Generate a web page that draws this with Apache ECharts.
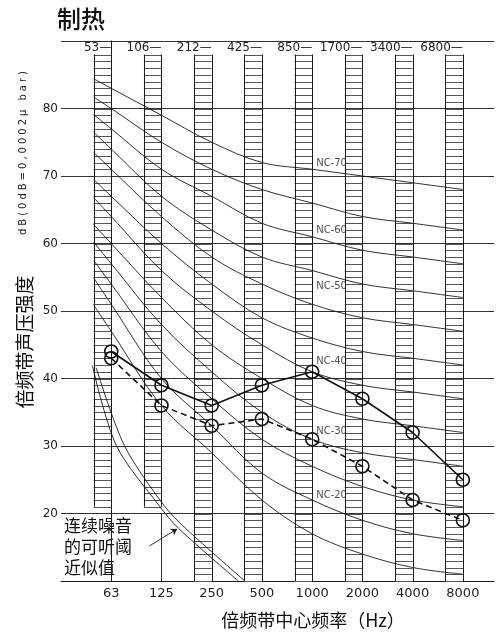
<!DOCTYPE html>
<html>
<head>
<meta charset="utf-8">
<script src="https://cdn.jsdelivr.net/npm/echarts@6/dist/echarts.min.js"></script>
<style>
html,body{margin:0;padding:0;background:#fff}
#chart{width:497px;height:637px}
</style>
</head>
<body>
<div id="chart"></div>
<script>
// Octave bands: centre frequencies (bottom axis) and lower band edges (top axis)
const bandCenters = ['63', '125', '250', '500', '1000', '2000', '4000', '8000'];
const bandEdges = ['53', '106', '212', '425', '850', '1700', '3400', '6800'];
const levelTicks = [20, 30, 40, 50, 60, 70, 80];

// Measured octave-band sound pressure levels, dB
const levelsSolid = [44, 39, 36, 39, 41, 37, 32, 25];
const levelsDashed = [43, 36, 33, 34, 31, 27, 22, 19];

// Ladder columns: top and bottom level of each band column, dB
const columnTop = [88, 88, 88, 88, 88, 88, 88, 88];
const columnBottom = [21, 21, 10, 10, 10, 10, 10, 10];

// NC curves: level where each curve starts (left edge of the 63 Hz column), then at each band centre
const ncNames = ['NC-15', 'NC-20', 'NC-25', 'NC-30', 'NC-35', 'NC-40', 'NC-45', 'NC-50', 'NC-55', 'NC-60', 'NC-65', 'NC-70'];
const ncStart = [50.9, 54.9, 57.5, 60.2, 62.8, 66.8, 69.5, 73.5, 76.5, 79.1, 81.7, 84.4];
const nc15 = [47, 36, 29, 22, 17, 14, 12, 11];
const nc20 = [51, 40, 33, 26, 22, 19, 17, 16];
const nc25 = [54, 44, 37, 31, 27, 24, 22, 21];
const nc30 = [57, 48, 41, 35, 31, 29, 28, 27];
const nc35 = [60, 52, 45, 40, 36, 34, 33, 32];
const nc40 = [64, 56, 50, 45, 41, 39, 38, 37];
const nc45 = [67, 60, 54, 49, 46, 44, 43, 42];
const nc50 = [71, 64, 58, 54, 51, 49, 48, 47];
const nc55 = [74, 67, 62, 58, 56, 54, 53, 52];
const nc60 = [77, 71, 67, 63, 61, 59, 58, 57];
const nc65 = [80, 75, 71, 68, 66, 64, 63, 62];
const nc70 = [83, 79, 75, 72, 71, 70, 69, 68];
const ncCurves = [nc15, nc20, nc25, nc30, nc35, nc40, nc45, nc50, nc55, nc60, nc65, nc70];

// Labelled NC curves and the level their tags sit at (beside the 1000 Hz column)
const ncTagNames = ['NC-70', 'NC-60', 'NC-50', 'NC-40', 'NC-30', 'NC-20'];
const ncTagLevels = [71.9, 61.9, 53.6, 42.5, 32.1, 22.7];

// Approximate hearing threshold for continuous noise: [band position, dB]
const thresholdA = [[-0.375, 41.9], [0.10, 30.1], [0.95, 21.2], [1.34, 17.8], [2.53, 10]];
const thresholdB = [[-0.30, 41.6], [0.26, 30.1], [1.05, 21.2], [1.48, 17.8], [2.66, 10]];

const COLW = 0.35;       // column width in band units
const INK = '#1a1a1a';
const NUM_FONT = 'DejaVu Sans';

const chart = echarts.init(document.getElementById('chart'), null, { renderer: 'canvas' });

function bandLabel(list, v) {
  const i = Math.round(v);
  if (Math.abs(v - i) > 1e-6 || i < 0 || i >= list.length) return '';
  return list[i];
}

const columnData = bandCenters.map((_, i) => [i, columnTop[i], columnBottom[i]]);

// One ladder column: two uprights with a rung at every whole dB
function renderColumn(params, api) {
  const x = api.value(0), top = api.value(1), bottom = api.value(2);
  const tl = api.coord([x - COLW, top]);
  const br = api.coord([x, bottom]);
  const children = [];
  for (let v = Math.ceil(bottom); v <= top; v++) {
    const y = Math.round(api.coord([x, v])[1]) + 0.5;
    children.push({ type: 'line', shape: { x1: tl[0], y1: y, x2: br[0], y2: y },
      style: { stroke: '#555', lineWidth: 1 } });
  }
  children.push({ type: 'line', shape: { x1: Math.round(tl[0]) + 0.5, y1: tl[1], x2: Math.round(tl[0]) + 0.5, y2: br[1] },
    style: { stroke: INK, lineWidth: 1 } });
  children.push({ type: 'line', shape: { x1: Math.round(br[0]) + 0.5, y1: tl[1], x2: Math.round(br[0]) + 0.5, y2: br[1] },
    style: { stroke: INK, lineWidth: 1 } });
  return { type: 'group', children };
}

const ncSeries = ncCurves.map((vals, k) => ({
  type: 'line',
  name: ncNames[k],
  data: [[-COLW, ncStart[k]]].concat(vals.map((v, i) => [i, v])),
  smooth: 0.35,
  showSymbol: false,
  silent: true,
  lineStyle: { color: INK, width: 0.9 },
  z: 3
}));

const option = {
  animation: false,
  backgroundColor: '#fff',
  grid: { left: 61, top: 41, right: 0, bottom: 56 },
  xAxis: [
    {
      type: 'value', min: -1, max: 7.62, interval: 1, position: 'bottom',
      axisLine: { show: true, lineStyle: { color: INK, width: 1 } },
      axisTick: { show: false },
      splitLine: { show: false },
      axisLabel: { margin: 6, color: '#222', fontFamily: NUM_FONT, fontSize: 13,
        formatter: v => bandLabel(bandCenters, v) }
    },
    {
      type: 'value', min: -1, max: 7.62, interval: 1, position: 'top',
      axisLine: { show: false }, axisTick: { show: false }, splitLine: { show: false },
      axisLabel: { inside: true, margin: 1, align: 'right', color: '#222', fontFamily: NUM_FONT, fontSize: 12,
        formatter: v => { const s = bandLabel(bandEdges, v); return s ? s + '—' : ''; } }
    }
  ],
  yAxis: {
    type: 'value', min: 10, max: 90, interval: 10,
    axisLine: { show: true, lineStyle: { color: INK, width: 1 } },
    axisTick: { show: false },
    splitLine: { show: true, lineStyle: { color: '#333', width: 1 } },
    axisLabel: { margin: 3, color: '#222', fontFamily: NUM_FONT, fontSize: 12,
      formatter: v => levelTicks.indexOf(v) >= 0 ? String(v) : '' }
  },
  series: [
    {
      type: 'custom', name: 'columns', data: columnData,
      encode: { x: 0, y: 1 }, renderItem: renderColumn, silent: true, z: 2
    }
  ].concat(ncSeries).concat([
    {
      type: 'line', name: 'thresholdA', data: thresholdA, smooth: 0.3, showSymbol: false, silent: true,
      lineStyle: { color: INK, width: 0.9 }, z: 3,
      markLine: {
        silent: true, animation: false, label: { show: false },
        data: [
          [{ coord: [1, 10], symbol: 'none' }, { coord: [1, 20], symbol: 'none' }],
          [{ coord: [0.76, 15.2], symbol: 'none' }, { coord: [1.31, 17.7], symbol: 'arrow', symbolSize: 6 }]
        ],
        lineStyle: { color: INK, width: 0.9, type: 'solid' }
      }
    },
    {
      type: 'line', name: 'thresholdB', data: thresholdB, smooth: 0.3, showSymbol: false, silent: true,
      lineStyle: { color: INK, width: 0.9 }, z: 3
    },
    {
      type: 'line', name: 'dashed', data: levelsDashed.map((v, i) => [i, v]),
      symbol: 'circle', symbolSize: 13,
      lineStyle: { color: '#111', width: 1.6, type: [6, 4] },
      itemStyle: { color: 'rgba(0,0,0,0)', borderColor: '#111', borderWidth: 1.6 },
      z: 5
    },
    {
      type: 'line', name: 'solid', data: levelsSolid.map((v, i) => [i, v]),
      symbol: 'circle', symbolSize: 13,
      lineStyle: { color: '#111', width: 1.6 },
      itemStyle: { color: 'rgba(0,0,0,0)', borderColor: '#111', borderWidth: 1.6 },
      z: 5
    },
    {
      type: 'scatter', name: 'ncTags', symbolSize: 0, silent: true, z: 6,
      data: ncTagNames.map((n, k) => ({ value: [4.08, ncTagLevels[k]], name: n })),
      label: { show: true, position: 'right', distance: 0, formatter: p => p.name,
        color: '#222', fontFamily: NUM_FONT, fontSize: 10 }
    }
  ]),
  graphic: [
    { type: 'text', x: 57, y: 7, style: { text: '制热', font: '500 24px "Noto Sans CJK SC"', fill: '#111' } },
    { type: 'text', x: 25, y: 342, rotation: Math.PI / 2,
      style: { text: '倍频带声压强度', font: '19px "Noto Sans CJK SC"', fill: '#111', align: 'center', verticalAlign: 'middle' } },
    { type: 'text', x: 23, y: 153, rotation: Math.PI / 2,
      style: { text: 'dB(0dB=0,0002μ bar)'.split('').join('\u2009\u200a'), font: '10px "DejaVu Sans"', fill: '#222', align: 'center', verticalAlign: 'middle' } },
    { type: 'text', x: 313, y: 620,
      style: { text: '倍频带中心频率（Hz）', font: '18px "Noto Sans CJK SC"', fill: '#111', align: 'center', verticalAlign: 'middle' } },
    { type: 'text', x: 64, y: 515,
      style: { text: '连续噪音\n的可听阈\n近似值', font: '17px "Noto Sans CJK SC"', lineHeight: 21, fill: '#111' } }
  ]
};

chart.setOption(option);
</script>
</body>
</html>
